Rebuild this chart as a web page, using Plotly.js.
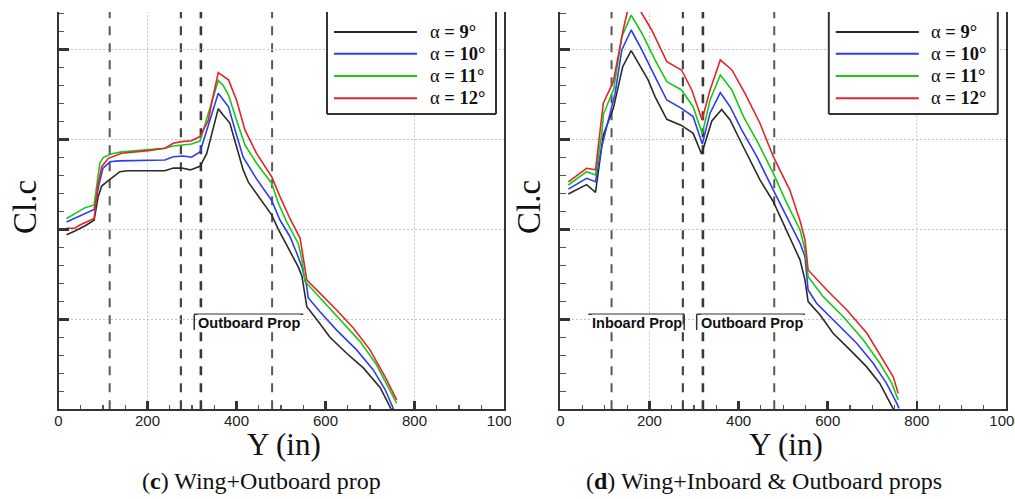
<!DOCTYPE html>
<html><head><meta charset="utf-8">
<script src="https://cdn.plot.ly/plotly-3.0.1.min.js"></script>
<style>html,body{margin:0;padding:0;background:#fff}#chart{width:1015px;height:499px}</style>
</head><body><div id="chart"></div>
<script>
// ---------------- data ----------------
const alphaLabels = ['α = 9°', 'α = 10°', 'α = 11°', 'α = 12°'];

// (c) Wing + Outboard prop : spanwise station Y (in) and Cl.c
const spanC_a9  = [18, 37, 60, 80, 89, 97, 112, 138, 156, 239, 258, 277, 296, 318, 333, 348, 359, 370, 385, 400, 415, 427, 445, 479, 494, 513, 539, 547, 554, 558, 580, 610, 648, 685, 723, 745, 760];
const clcC_a9   = [97, 99, 102, 105, 118, 124, 127, 132, 132.5, 132.5, 134, 134, 133, 135, 142, 157, 167, 163.5, 159, 146, 133, 126, 120, 108, 100, 91, 79, 74, 63, 57, 50, 40, 31, 23, 12, 1, -6];
const spanC_a10 = [18, 80, 91, 100, 116, 134, 239, 258, 280, 299, 318, 333, 348, 359, 370, 382, 397, 415, 445, 479, 498, 520, 535, 547, 558, 561, 588, 625, 670, 707, 734, 752, 760];
const clcC_a10  = [104, 111, 125, 134, 137.5, 138, 138.5, 140.3, 140.7, 140, 143, 155, 166, 175.6, 172, 168, 155, 140, 128, 116, 105, 96, 87, 79, 68, 62, 54, 44, 33, 22, 11, 0.6, -4];
const spanC_a11 = [18, 60, 80, 93, 101, 120, 142, 202, 239, 258, 299, 318, 337, 348, 359, 370, 382, 400, 419, 445, 479, 494, 513, 539, 547, 554, 565, 599, 636, 678, 715, 741, 760];
const clcC_a11  = [106, 112, 113.5, 137, 140, 142, 143, 144, 145, 146.3, 147.4, 149, 164.5, 173.7, 182.6, 180, 174.6, 160.7, 146.8, 136.7, 125.6, 114.5, 104, 92, 83, 71, 68, 59, 49, 37.6, 24.6, 12.6, 3.3];
const spanC_a12 = [18, 37, 48, 63, 80, 88, 97, 112, 142, 202, 239, 258, 277, 299, 318, 337, 344, 359, 382, 400, 419, 445, 479, 498, 520, 543, 558, 588, 625, 663, 700, 734, 760];
const clcC_a12  = [100.6, 100.6, 102.4, 104.2, 106, 123.7, 134.8, 139.4, 142.2, 143.7, 145, 147.8, 148.7, 149.2, 151.5, 160.7, 170, 187, 183, 171.8, 155.2, 142.2, 129.2, 118, 106, 95, 71.8, 64.4, 55.2, 45, 33, 18, 5.2];

// (d) Wing + Inboard & Outboard props
const spanD_a9  = [18, 59, 79, 96.5, 119, 140, 159, 183, 197, 212.5, 239, 272, 298, 317, 328.5, 340, 362, 381, 403, 429, 448, 478, 504, 538, 549, 556, 583, 612, 650, 687, 717, 747, 760];
const clcD_a9   = [119.6, 124.8, 120.5, 152.4, 167.2, 190.3, 199.2, 188.5, 183, 173.7, 161.1, 157.7, 153.3, 141.8, 151.4, 160.2, 166.6, 160.7, 149.6, 136.7, 127.4, 115.3, 101.5, 82.9, 71.8, 59.8, 52.4, 42.2, 33, 23.7, 14.4, 0.6, -6];
const spanD_a10 = [18, 59, 79, 93, 123, 138, 159, 183, 212.5, 239, 272, 298, 318.6, 336, 359, 381, 407, 441, 478, 508, 538, 549, 556, 575, 620, 665, 702, 732, 755, 760];
const clcD_a10  = [122.3, 128.3, 126.4, 146, 175.6, 199.6, 210.7, 199.6, 184.8, 171.8, 167.2, 162.6, 147.4, 164.5, 175.9, 168.1, 155.2, 140.3, 121.8, 107, 92.2, 84.8, 66.3, 58.9, 47.8, 36.7, 25.6, 14.4, 3.3, 0.5];
const spanD_a11 = [18, 59, 79, 93, 97, 120, 138, 159, 183, 212.5, 239, 272, 298, 318.6, 336, 359, 385, 411, 444, 478, 508, 538, 549, 556, 590, 635, 680, 717, 744, 758];
const clcD_a11  = [124.6, 132, 130.2, 153, 164, 178, 207, 219, 208.9, 194.1, 182, 177.4, 168.1, 153, 171.8, 185.7, 177.4, 162.6, 147.8, 131.1, 114.5, 99.6, 88.5, 73.7, 62.6, 51.4, 38.5, 25.6, 14.4, 5.2];
const spanD_a12 = [18, 59, 79, 96.5, 119, 141, 159, 183, 205, 239, 272, 295, 318, 336, 359, 385, 414, 448, 478, 515, 538, 549, 556, 598, 643, 688, 725, 747, 758];
const clcD_a12  = [126.3, 133.9, 133, 170, 182, 210.7, 230, 220, 210.7, 193.1, 188.5, 177.4, 160.7, 177.4, 194.1, 188.5, 175.6, 158.9, 140.3, 121.8, 104.6, 94.1, 77.4, 66.3, 55.2, 42.2, 27.4, 18.1, 8.9];

const propStations = [115, 275, 320, 480];     // dashed prop-disk stations (in)
const xGridStations = [200, 800];               // dotted vertical grid
const xTickVals = [0, 200, 400, 600, 800, 1000];
const xTickText = ['0', '200', '400', '600', '800', '1000'];
// prop bracket labels: [label, start, end, tickSide]
const bracketsC = [['Outboard Prop', 305, 550, 'left']];
const bracketsD = [['Inboard Prop', 63, 278, 'right'], ['Outboard Prop', 306, 549, 'left']];
const captions = ['(<b>c</b>) Wing+Outboard prop', '(<b>d</b>) Wing+Inboard &amp; Outboard props'];
const yTitle = 'Cl.c';
const xTitle = 'Y (in)';

// ---------------- styles ----------------
const W = 1015, H = 499;
const seriesColors = ['#2a2a2a', '#2e3cf2', '#19c819', '#e0262a'];
const propLineStyle = [{w: 2, c: '#585858'}, {w: 2.2, c: '#464646'}, {w: 2.6, c: '#383838'}, {w: 2, c: '#585858'}];
const fx = p => p / W;
const fy = p => (H - p) / H;

const panels = [
  {xa: 'x', ya: 'y', left: 58.5, right: 503.5, spans: [spanC_a9, spanC_a10, spanC_a11, spanC_a12],
   vals: [clcC_a9, clcC_a10, clcC_a11, clcC_a12], brackets: bracketsC, caption: captions[0],
   ylabX: 24.5, xlabX: 284, capX: 261},
  {xa: 'x2', ya: 'y2', left: 560.3, right: 1006, spans: [spanD_a9, spanD_a10, spanD_a11, spanD_a12],
   vals: [clcD_a9, clcD_a10, clcD_a11, clcD_a12], brackets: bracketsD, caption: captions[1],
   ylabX: 528.5, xlabX: 786, capX: 763.5}
];
const plotTop = 12, plotBottom = 409.3;

const traces = [], shapes = [], annotations = [];
panels.forEach((p, pi) => {
  p.spans.forEach((xs, si) => {
    traces.push({x: xs, y: p.vals[si], type: 'scatter', mode: 'lines', name: alphaLabels[si],
      xaxis: p.xa, yaxis: p.ya, showlegend: false, hoverinfo: 'skip',
      line: {color: seriesColors[si], width: 1.6}});
  });
  propStations.forEach((s, k) => {
    shapes.push({type: 'line', xref: p.xa, yref: p.ya + ' domain', x0: s, x1: s, y0: 0, y1: 1,
      line: {color: propLineStyle[k].c, width: propLineStyle[k].w, dash: '9px,8px'}, layer: 'below'});
  });
  xGridStations.forEach(s => {
    shapes.push({type: 'line', xref: p.xa, yref: p.ya + ' domain', x0: s, x1: s, y0: 0, y1: 1,
      line: {color: '#c2c2c2', width: 1, dash: '2px,2px'}, layer: 'below'});
  });
  p.brackets.forEach(b => {
    const [label, a, e, side] = b;
    shapes.push({type: 'line', xref: p.xa, yref: p.ya, x0: a, x1: e, y0: 52.8, y1: 52.8,
      line: {color: '#333', width: 1.5}, layer: 'above'});
    const tx = side === 'left' ? a : e;
    shapes.push({type: 'line', xref: p.xa, yref: p.ya, x0: tx, x1: tx, y0: 52.8, y1: 44,
      line: {color: '#333', width: 1.5}, layer: 'above'});
    annotations.push({xref: p.xa, yref: p.ya, x: a + (side === 'left' ? 7 : 5), y: 47.8, xanchor: 'left', yanchor: 'middle',
      text: '<b>' + label + '</b>', showarrow: false, bgcolor: '#fff', borderpad: 0,
      font: {family: 'Liberation Sans, Arial, sans-serif', size: 14.5, color: '#111'}});
  });
  // legend (drawn as a Tecplot-style box)
  const o = p.left;
  const bx0 = o + 268.5, bx1 = o + 437.5, by1 = 114;
  shapes.push({type: 'rect', xref: 'paper', yref: 'paper', x0: fx(bx0), x1: fx(bx1), y0: fy(by1), y1: fy(plotTop),
    fillcolor: '#fff', line: {width: 0}, layer: 'above'});
  [[bx0, plotTop, bx0, by1], [bx1, plotTop, bx1, by1], [bx0, by1, bx1, by1]].forEach(l => {
    shapes.push({type: 'line', xref: 'paper', yref: 'paper', x0: fx(l[0]), y0: fy(l[1]), x1: fx(l[2]), y1: fy(l[3]),
      line: {color: '#333', width: 2}, layer: 'above'});
  });
  const rowY = [32, 53.7, 76, 98.3];
  alphaLabels.forEach((lab, si) => {
    shapes.push({type: 'line', xref: 'paper', yref: 'paper', x0: fx(o + 275.5), x1: fx(o + 358.5), y0: fy(rowY[si]), y1: fy(rowY[si]),
      line: {color: seriesColors[si], width: 2}, layer: 'above'});
    const parts = lab.split(' = ');
    annotations.push({xref: 'paper', yref: 'paper', x: fx(o + 369), y: fy(rowY[si]), xanchor: 'left', yanchor: 'middle',
      text: parts[0] + ' <b>= ' + parts[1] + '</b>', showarrow: false,
      font: {family: 'Liberation Serif, Times New Roman, serif', size: 18.5, color: '#111'}});
  });
  // axis titles and caption
  annotations.push({xref: 'paper', yref: 'paper', x: fx(p.ylabX), y: fy(207.5), xanchor: 'center', yanchor: 'middle',
    text: yTitle, textangle: -90, showarrow: false,
    font: {family: 'Liberation Serif, Times New Roman, serif', size: 33, color: '#111'}});
  annotations.push({xref: 'paper', yref: 'paper', x: fx(p.xlabX), y: fy(444), xanchor: 'center', yanchor: 'middle',
    text: xTitle, showarrow: false,
    font: {family: 'Liberation Serif, Times New Roman, serif', size: 31, color: '#111'}});
  annotations.push({xref: 'paper', yref: 'paper', x: fx(p.capX), y: fy(481), xanchor: 'center', yanchor: 'middle',
    text: p.caption, showarrow: false,
    font: {family: 'Liberation Serif, Times New Roman, serif', size: 24, color: '#111'}});
});
// the left panel's last tick label is cut by the panel edge in the source figure
shapes.push({type: 'rect', xref: 'paper', yref: 'paper', x0: fx(511), x1: fx(540), y0: fy(434), y1: fy(411),
  fillcolor: '#fff', line: {width: 0}, layer: 'above'});

function xAxis(p) {
  return {domain: [fx(p.left), fx(p.right)], range: [0, 1000], tickvals: xTickVals, ticktext: xTickText,
    ticks: 'inside', ticklen: 8, tickwidth: 2.5, tickcolor: '#333', showline: true, linecolor: '#333', linewidth: 2,
    mirror: false, showgrid: false, zeroline: false, fixedrange: true,
    ticklabeloverflow: 'allow', ticklabelstandoff: -3,
    tickfont: {family: 'Liberation Sans, Arial, sans-serif', size: 15, color: '#222'},
    minor: {dtick: 50, tick0: 0, ticks: 'inside', ticklen: 4.5, tickwidth: 1.2, tickcolor: '#555', showgrid: false}};
}
function yAxis() {
  return {domain: [fy(plotBottom), fy(plotTop)], range: [0, 220.7], dtick: 50, tick0: 0,
    ticks: 'inside', ticklen: 10, tickwidth: 2.5, tickcolor: '#333', showticklabels: false,
    showline: true, linecolor: '#333', linewidth: 2, mirror: true,
    showgrid: true, gridcolor: '#c2c2c2', griddash: '2px,2px', gridwidth: 1, zeroline: false, fixedrange: true,
    minor: {dtick: 10, tick0: 0, ticks: 'inside', ticklen: 5.5, tickwidth: 1.2, tickcolor: '#555', showgrid: false}};
}

const layout = {
  width: W, height: H, margin: {l: 0, r: 0, t: 0, b: 0},
  paper_bgcolor: '#fff', plot_bgcolor: '#fff', showlegend: false,
  xaxis: Object.assign(xAxis(panels[0]), {anchor: 'y'}),
  yaxis: Object.assign(yAxis(), {anchor: 'x'}),
  xaxis2: Object.assign(xAxis(panels[1]), {anchor: 'y2'}),
  yaxis2: Object.assign(yAxis(), {anchor: 'x2'}),
  shapes: shapes, annotations: annotations
};
Plotly.newPlot('chart', traces, layout, {staticPlot: true, displayModeBar: false});
</script></body></html>
